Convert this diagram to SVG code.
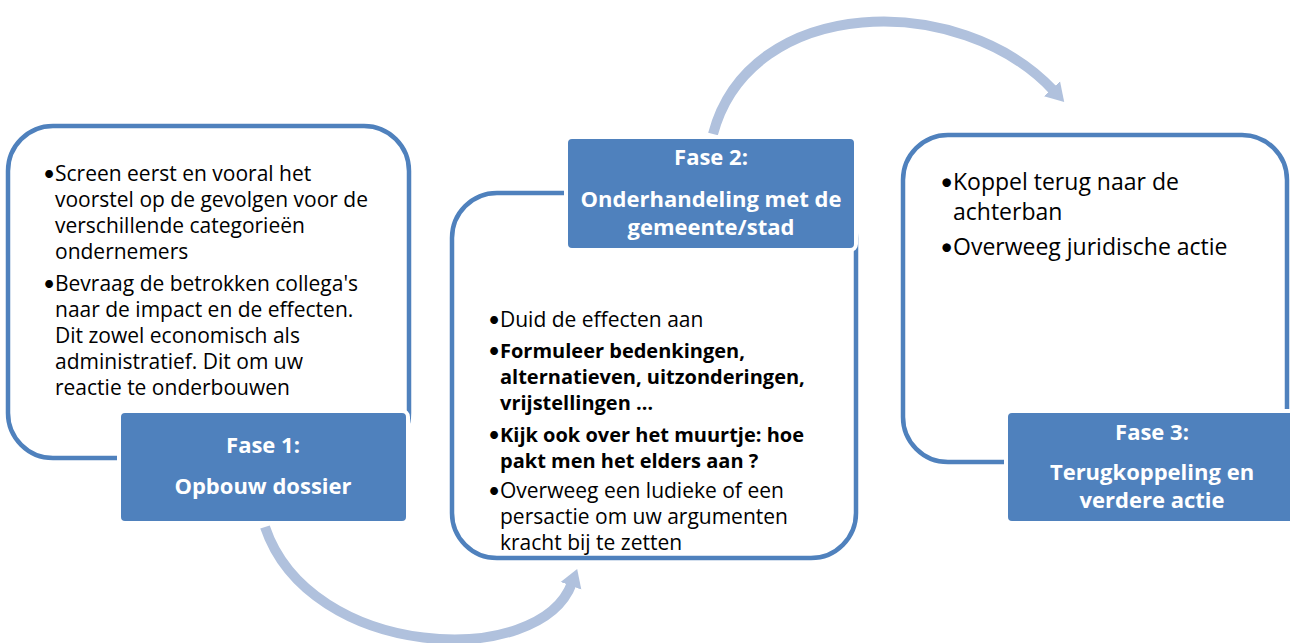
<svg xmlns="http://www.w3.org/2000/svg" width="1290" height="643" viewBox="0 0 1290 643">
<defs>
<style>
.frame{fill:#fff;stroke:#4f81bd;stroke-width:4.5}
.fase{fill:#4f81bd;stroke:#fff;stroke-width:4}
.ft{font-family:"Open Sans","Liberation Sans",sans-serif;font-weight:bold;fill:#fff;font-size:22px;text-anchor:middle}
.bt{font-family:"Open Sans","Liberation Sans",sans-serif;fill:#000;font-size:21px}
.b{font-weight:bold;font-size:20px}
.bu{font-family:Lato,"Liberation Sans",sans-serif}
.arrow{fill:none;stroke:#b0c1dd;stroke-width:10}
</style>
<marker id="ah" markerUnits="userSpaceOnUse" markerWidth="22" markerHeight="24" refX="3" refY="12" orient="auto">
<path d="M0,1 L18,12 L0,23 z" fill="#b0c1dd"/>
</marker>
</defs>
<g id="connectors">
<path class="arrow" d="M265 527 C310 660 540 670 572 583" marker-end="url(#ah)"/>
<path class="arrow" d="M713 134 C750 -5 960 -10 1054 91" marker-end="url(#ah)"/>
</g>
<g id="node1">
<rect class="frame" x="8" y="126" width="401" height="332" rx="45"/>
<g class="bt">
<text class="bu" x="43" y="181">•</text>
<text x="55" y="181">Screen eerst en vooral het</text>
<text x="55" y="207">voorstel op de gevolgen voor de</text>
<text x="55" y="233">verschillende categorieën</text>
<text x="55" y="259">ondernemers</text>
<text class="bu" x="43" y="291">•</text>
<text x="55" y="291">Bevraag de betrokken collega's</text>
<text x="55" y="317">naar de impact en de effecten.</text>
<text x="55" y="343">Dit zowel economisch als</text>
<text x="55" y="369">administratief. Dit om uw</text>
<text x="55" y="395">reactie te onderbouwen</text>
</g>
</g>
<g id="fase1">
<rect class="fase" x="119" y="411" width="289" height="112" rx="6"/>
<text class="ft" x="263" y="453">Fase 1:</text>
<text class="ft" x="263" y="494">Opbouw dossier</text>
</g>
<g id="node2">
<rect class="frame" x="452" y="193" width="404" height="365" rx="45"/>
<g class="bt">
<text class="bu" x="488" y="327">•</text>
<text x="500" y="327">Duid de effecten aan</text>
<text class="bu" x="488" y="358">•</text>
<text class="b" x="500" y="358">Formuleer bedenkingen,</text>
<text class="b" x="500" y="384">alternatieven, uitzonderingen,</text>
<text class="b" x="500" y="410">vrijstellingen …</text>
<text class="bu" x="488" y="442">•</text>
<text class="b" x="500" y="442">Kijk ook over het muurtje: hoe</text>
<text class="b" x="500" y="468">pakt men het elders aan ?</text>
<text class="bu" x="488" y="498">•</text>
<text x="500" y="498">Overweeg een ludieke of een</text>
<text x="500" y="524">persactie om uw argumenten</text>
<text x="500" y="550">kracht bij te zetten</text>
</g>
</g>
<g id="fase2">
<rect class="fase" x="566" y="137" width="290" height="113" rx="6"/>
<text class="ft" x="711" y="165">Fase 2:</text>
<text class="ft" x="711" y="207">Onderhandeling met de</text>
<text class="ft" x="711" y="235">gemeente/stad</text>
</g>
<g id="node3">
<rect class="frame" x="903" y="135" width="384" height="327" rx="45"/>
<g class="bt" style="font-size:23px">
<text class="bu" x="940" y="190">•</text>
<text x="953" y="190">Koppel terug naar de</text>
<text x="953" y="220">achterban</text>
<text class="bu" x="940" y="255">•</text>
<text x="953" y="255">Overweeg juridische actie</text>
</g>
</g>
<g id="fase3">
<rect class="fase" x="1006" y="411" width="295" height="112" rx="6"/>
<text class="ft" x="1152" y="440">Fase 3:</text>
<text class="ft" x="1152" y="480">Terugkoppeling en</text>
<text class="ft" x="1152" y="508">verdere actie</text>
</g>
</svg>
